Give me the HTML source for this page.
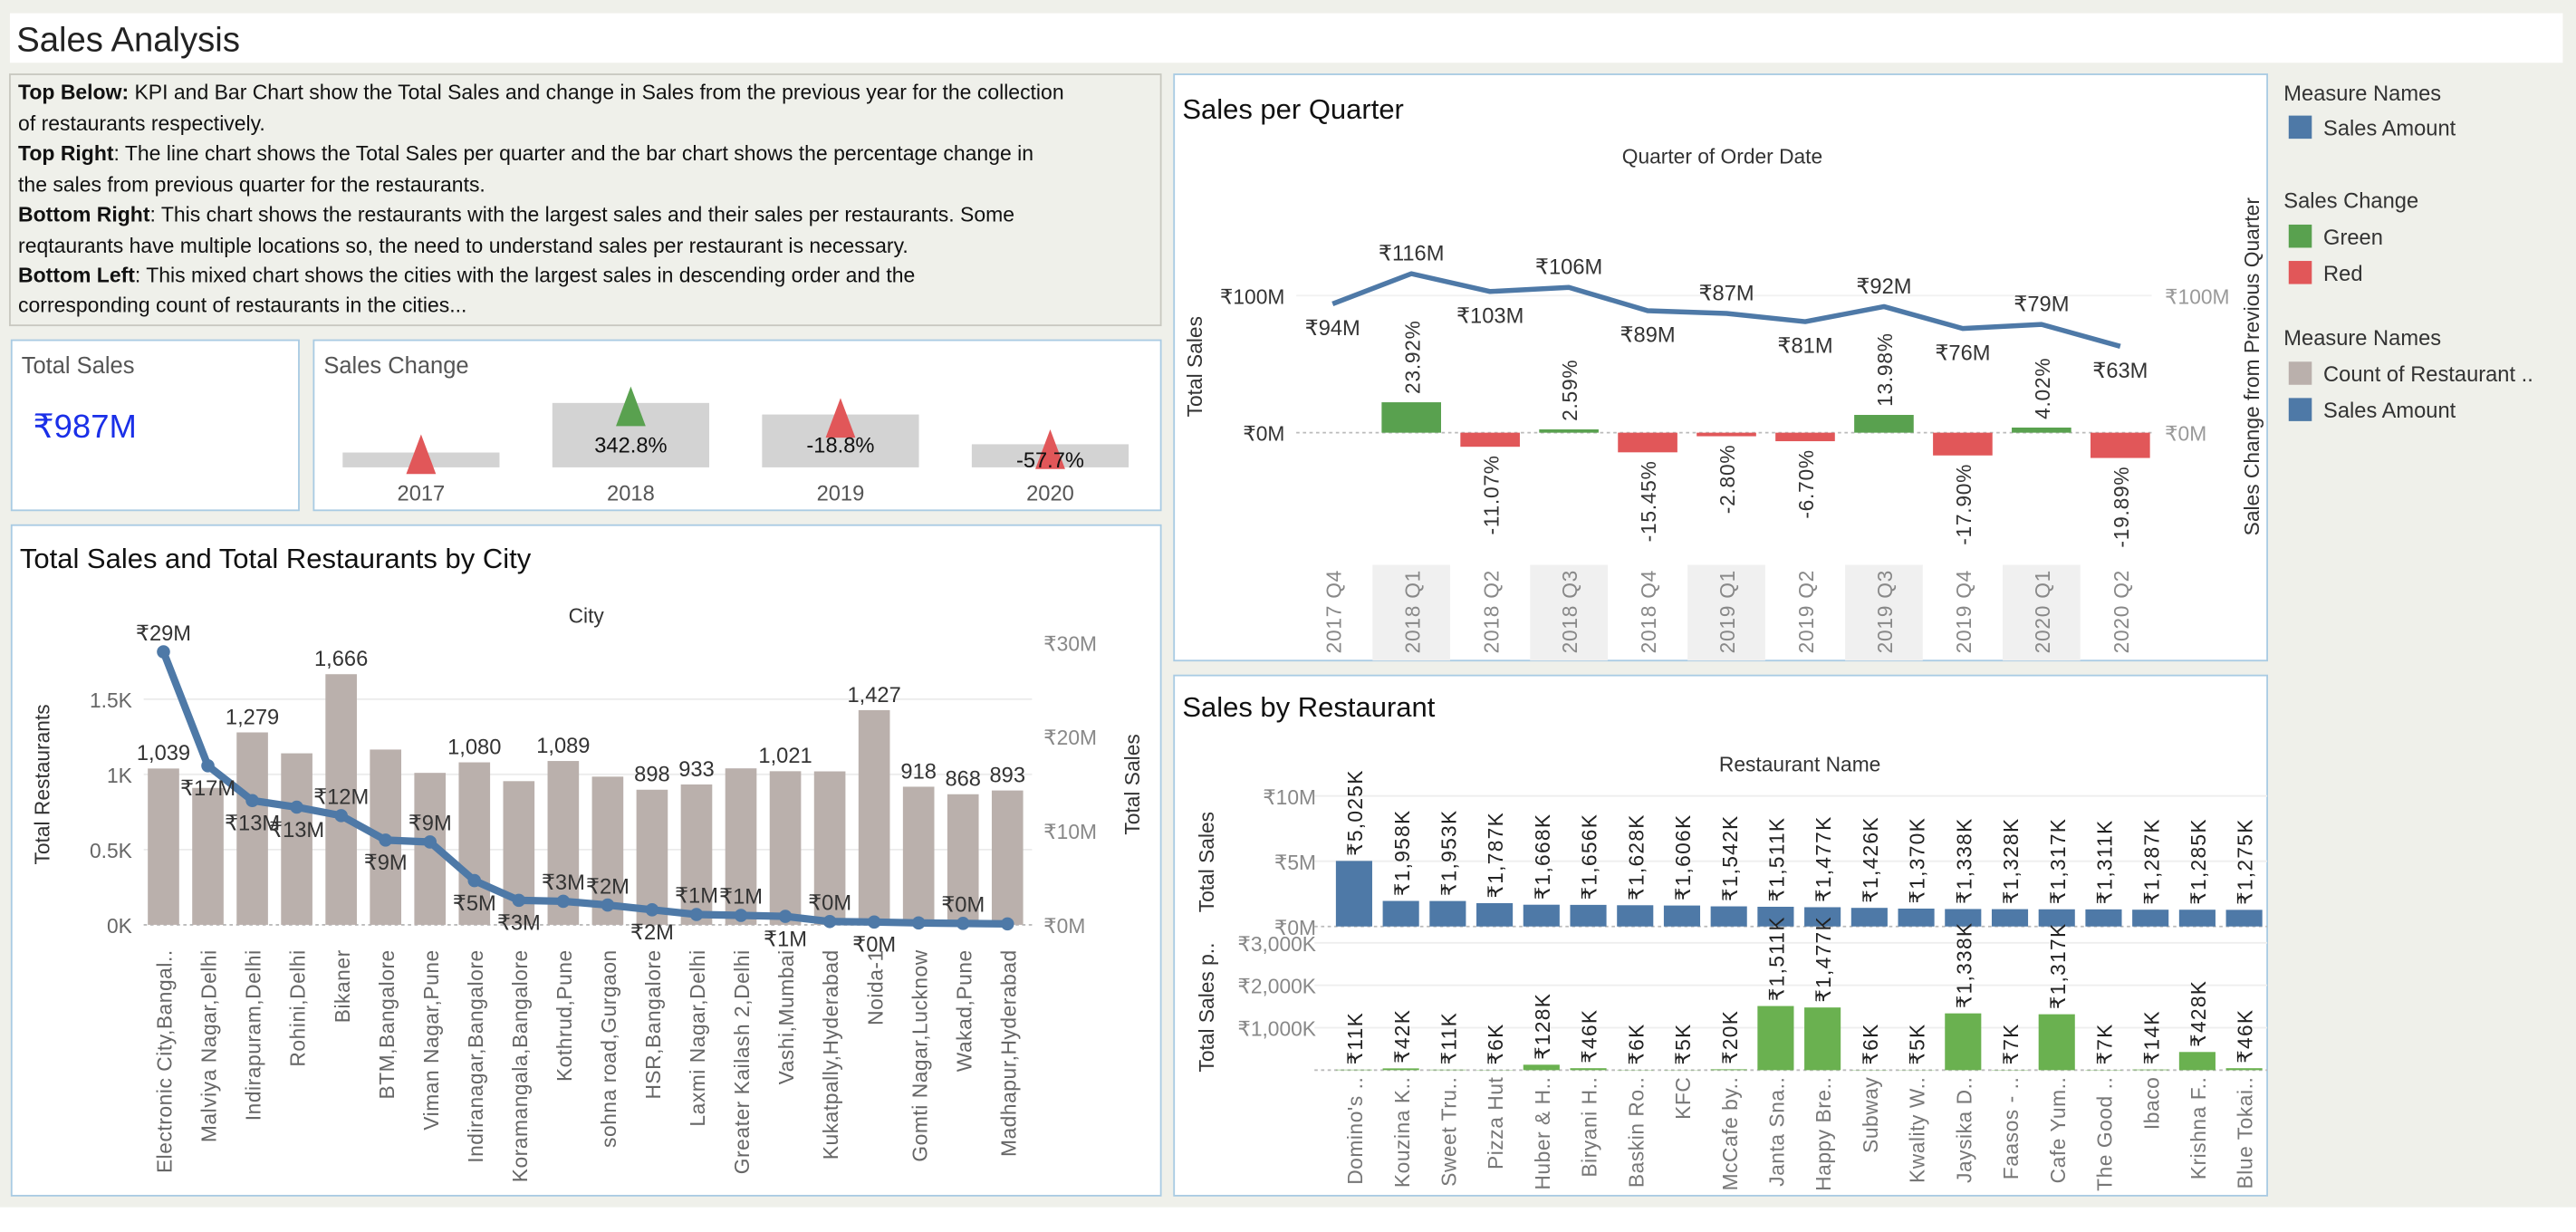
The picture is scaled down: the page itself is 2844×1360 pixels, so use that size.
<!DOCTYPE html>
<html><head><meta charset="utf-8"><style>
html,body{margin:0;padding:0;background:#fff;overflow:hidden}
svg{display:block;font-family:"Liberation Sans","DejaVu Sans",sans-serif}
</style></head><body>
<svg id="dash" width="2844" height="1360" viewBox="0 0 1560 746" preserveAspectRatio="none" xmlns="http://www.w3.org/2000/svg">
<rect x="0" y="0" width="1560" height="746" fill="#eff0ea"/>
<rect x="0" y="731" width="1560" height="15" fill="#fff"/>
<rect x="6" y="8" width="1546" height="30" fill="#fff"/>
<text x="10" y="31" font-size="21" fill="#222">Sales Analysis</text>

<g font-size="12.6" fill="#111">
<rect x="6" y="45" width="697" height="152" fill="#eff0ea" stroke="#c8c8c0" stroke-width="1"/>
<text x="11" y="60"><tspan font-weight="bold">Top Below:</tspan> KPI and Bar Chart show the Total Sales and change in Sales from the previous year for the collection</text>
<text x="11" y="79">of restaurants respectively.</text>
<text x="11" y="97"><tspan font-weight="bold">Top Right</tspan>: The line chart shows the Total Sales per quarter and the bar chart shows the percentage change in</text>
<text x="11" y="116">the sales from previous quarter for the restaurants.</text>
<text x="11" y="134"><tspan font-weight="bold">Bottom Right</tspan>: This chart shows the restaurants with the largest sales and their sales per restaurants. Some</text>
<text x="11" y="153">reqtaurants have multiple locations so, the need to understand sales per restaurant is necessary.</text>
<text x="11" y="171"><tspan font-weight="bold">Bottom Left</tspan>: This mixed chart shows the cities with the largest sales in descending order and the</text>
<text x="11" y="189">corresponding count of restaurants  in the cities...</text>
</g>

<g>
<rect x="7" y="206" width="174" height="103" fill="#fff" stroke="#a9cbe3"/>
<text x="13" y="226" font-size="14" fill="#555">Total Sales</text>
<text x="20" y="265" font-size="20" fill="#1a2fe8">₹987M</text>
</g>

<g id="kpi">
<rect x="190" y="206" width="513" height="103" fill="#fff" stroke="#a9cbe3"/>
<text x="196" y="226" font-size="14" fill="#555">Sales Change</text>
</g>

<g id="city">
<rect x="7" y="318" width="696" height="406" fill="#fff" stroke="#a9cbe3"/>
<text x="12" y="344" font-size="17" fill="#111">Total Sales and Total Restaurants by City</text>
<text x="355" y="377" font-size="12.5" fill="#333" text-anchor="middle">City</text>
<text transform="translate(30,475) rotate(-90)" font-size="12.5" fill="#333" text-anchor="middle">Total Restaurants</text>
<text transform="translate(690,475) rotate(-90)" font-size="12.5" fill="#333" text-anchor="middle">Total Sales</text>
</g>

<g id="qtr">
<rect x="711" y="45" width="662" height="355" fill="#fff" stroke="#a9cbe3"/>
<text x="716" y="72" font-size="17" fill="#111">Sales per Quarter</text>
<text x="1043" y="99" font-size="12.5" fill="#333" text-anchor="middle">Quarter of Order Date</text>
<text transform="translate(728,222) rotate(-90)" font-size="12.5" fill="#333" text-anchor="middle">Total Sales</text>
<text transform="translate(1368,222) rotate(-90)" font-size="12.5" fill="#333" text-anchor="middle">Sales Change from Previous Quarter</text>
</g>

<g id="rest">
<rect x="711" y="409" width="662" height="315" fill="#fff" stroke="#a9cbe3"/>
<text x="716" y="434" font-size="17" fill="#111">Sales by Restaurant</text>
<text x="1090" y="467" font-size="12.5" fill="#333" text-anchor="middle">Restaurant Name</text>
<text transform="translate(735,522) rotate(-90)" font-size="12.5" fill="#333" text-anchor="middle">Total Sales</text>
<text transform="translate(735,610) rotate(-90)" font-size="12.5" fill="#333" text-anchor="middle">Total Sales p..</text>
</g>

<g font-size="13" fill="#333">
<text x="1383" y="61">Measure Names</text>
<rect x="1386" y="70" width="14" height="14" fill="#4e79a7"/>
<text x="1407" y="82">Sales Amount</text>
<text x="1383" y="126">Sales Change</text>
<rect x="1386" y="136" width="14" height="14" fill="#59a14f"/>
<text x="1407" y="148">Green</text>
<rect x="1386" y="158" width="14" height="14" fill="#e15759"/>
<text x="1407" y="170">Red</text>
<text x="1383" y="209">Measure Names</text>
<rect x="1386" y="219" width="14" height="14" fill="#bab0ac"/>
<text x="1407" y="231">Count of Restaurant ..</text>
<rect x="1386" y="241" width="14" height="14" fill="#4e79a7"/>
<text x="1407" y="253">Sales Amount</text>
</g>
</svg>
<script>
// ---- KPI data ----
const kpiYears = ['2017','2018','2019','2020'];
const kpiSales = [9, 39, 32, 14];
const kpiChange = [null, 342.8, -18.8, -57.7];

// ---- City chart data ----
const cities = ['Electronic City,Bangal..','Malviya Nagar,Delhi','Indirapuram,Delhi','Rohini,Delhi','Bikaner','BTM,Bangalore','Viman Nagar,Pune','Indiranagar,Bangalore','Koramangala,Bangalore','Kothrud,Pune','sohna road,Gurgaon','HSR,Bangalore','Laxmi Nagar,Delhi','Greater Kailash 2,Delhi','Vashi,Mumbai','Kukatpally,Hyderabad','Noida-1','Gomti Nagar,Lucknow','Wakad,Pune','Madhapur,Hyderabad'];
const cityRestaurants = [1039,910,1279,1140,1666,1165,1010,1080,955,1089,985,898,933,1040,1021,1020,1427,918,868,893];
const cityRestLabelShown = [1,0,1,0,1,0,0,1,0,1,0,1,1,0,1,0,1,1,1,1];
const citySales = [29,16.9,13.2,12.5,11.6,9,8.8,4.7,2.6,2.5,2.1,1.6,1.1,1.0,0.9,0.35,0.3,0.2,0.15,0.1];
const citySalesLabelPos = ['a','b','b','b','a','b','a','b','b','a','a','b','a','a','b','a','b','n','a','n'];
const cityLeftTicks = [0,500,1000,1500];
const cityLeftTickLabels = ['0K','0.5K','1K','1.5K'];
const cityRightTicks = [0,10,20,30];

// ---- Quarter chart data ----
const quarters = ['2017 Q4','2018 Q1','2018 Q2','2018 Q3','2018 Q4','2019 Q1','2019 Q2','2019 Q3','2019 Q4','2020 Q1','2020 Q2'];
const quarterSales = [94,116,103,106,89,87,81,92,76,79,63];
const quarterChange = [null,23.92,-11.07,2.59,-15.45,-2.80,-6.70,13.98,-17.90,4.02,-19.89];
const quarterLabelPos = ['b','a','b','a','b','a','b','a','b','a','b'];

// ---- Restaurant chart data ----
const restaurants = ["Domino's ..",'Kouzina K..','Sweet Tru..','Pizza Hut','Huber & H..','Biryani H..','Baskin Ro..','KFC','McCafe by..','Janta Sna..','Happy Bre..','Subway','Kwality W..','Jaysika D..','Faasos - ..','Cafe Yum..','The Good ..','Ibaco','Krishna F..','Blue Tokai..'];
const restSales = [5025,1958,1953,1787,1668,1656,1628,1606,1542,1511,1477,1426,1370,1338,1328,1317,1311,1287,1285,1275];
const restPerRest = [11,42,11,6,128,46,6,5,20,1511,1477,6,5,1338,7,1317,7,14,428,46];

const NS='http://www.w3.org/2000/svg';
function mk(tag, attrs, parent){const e=document.createElementNS(NS,tag);for(const k in attrs)e.setAttribute(k,attrs[k]);parent.appendChild(e);return e;}
function tx(str, attrs, parent){const e=mk('text',attrs,parent);e.textContent=str;return e;}
const fmt=n=>n.toLocaleString('en-US');

// ===== KPI =====
(function(){
  const g=document.getElementById('kpi');
  const x0=255, step=127, base=283, bw=95;
  const hs=v=>v*1.0;
  kpiYears.forEach((y,i)=>{
    const cx=x0+i*step;
    const h=hs(kpiSales[i]);
    const r=mk('rect',{x:cx-bw/2,y:base-h,width:bw,height:h,fill:'#d3d3d3'},g);
    
    
    const up=(kpiChange[i]!==null&&kpiChange[i]>0);
    const ty=base-h+ (i===0? h-8: i===3? 3: 2);
    const t=mk('polygon',{points:`${cx},${ty-12} ${cx-9},${ty+12} ${cx+9},${ty+12}`,fill:up?'#59a14f':'#e15759'},g);
    
    
    if(kpiChange[i]!==null){
      const l=tx(kpiChange[i].toFixed(1)+'%',{x:cx,y:base-h+ (i===3?14:i===2?23:30),'font-size':13,'text-anchor':'middle',fill:'#111'},g);
      
      
    }
    const yl=tx(y,{x:cx,y:303,'font-size':13,'text-anchor':'middle',fill:'#555'},g);
    
    
  });
})();

// ===== City chart =====
(function(){
  const g=document.getElementById('city');
  const x0=99, step=26.9, base=560;
  const yL=v=>base-v*0.0911;
  const yR=v=>base-v*5.7;
  cityLeftTicks.forEach((t,i)=>{
    const gl=mk('line',{x1:87,x2:625,y1:yL(t),y2:yL(t),stroke:t===0?'#bbb':'#ececec','stroke-dasharray':t===0?'2,2':''},g);
    
    
    const l=tx(cityLeftTickLabels[i],{x:80,y:yL(t)+5,'font-size':12.5,'text-anchor':'end',fill:'#666'},g);
    
    
  });
  cityRightTicks.forEach(t=>{
    const l=tx('₹'+t+'M',{x:632,y:yR(t)+5,'font-size':12.5,fill:'#888'},g);
    
    
  });
  cities.forEach((c,i)=>{
    const cx=x0+i*step;
    const b=mk('rect',{x:cx-9.5,y:yL(cityRestaurants[i]),width:19,height:base-yL(cityRestaurants[i]),fill:'#bab0ac'},g);
    
    
    if(cityRestLabelShown[i]){
      const l=tx(fmt(cityRestaurants[i]),{x:cx,y:yL(cityRestaurants[i])-5,'font-size':13,'text-anchor':'middle',fill:'#333'},g);
      
      
    }
    const xl=tx(c,{transform:`translate(${cx+5},${575}) rotate(-90)`,'font-size':12.5,'letter-spacing':0.3,'text-anchor':'end',fill:'#666'},g);
    
    
  });
  const pts=citySales.map((v,i)=>`${x0+i*step},${yR(v)}`).join(' ');
  const pl=mk('polyline',{points:pts,fill:'none',stroke:'#4e79a7','stroke-width':4.5,'stroke-linejoin':'round'},g);
  
  
  citySales.forEach((v,i)=>{
    const cx=x0+i*step, cy=yR(v);
    const p=mk('circle',{cx:cx,cy:cy,r:4,fill:'#4e79a7'},g);
    
    
    if(citySalesLabelPos[i]!=='n'){
      const l=tx('₹'+Math.round(v)+'M',{x:cx,y:citySalesLabelPos[i]==='a'?cy-7:cy+18,'font-size':13,'text-anchor':'middle',fill:'#333'},g);
      
      
    }
  });
})();

// ===== Quarter chart =====
(function(){
  const g=document.getElementById('qtr');
  const x0=807, step=47.7, base=262;
  const yS=v=>base-v*0.83;
  const yC=v=>base-v*0.77;
  quarters.forEach((q,i)=>{
    if(i%2===1){
      const band=mk('rect',{x:x0+i*step-23.5,y:342,width:47,height:58,fill:'#f0f0f0'},g);
      
      
    }
  });
  [0,100].forEach(t=>{
    const gl=mk('line',{x1:785,x2:1303,y1:yS(t),y2:yS(t),stroke:t===0?'#bbb':'#f2f2f2','stroke-dasharray':t===0?'2,2':''},g);
    
    
    const l=tx('₹'+t+'M',{x:778,y:yS(t)+5,'font-size':12.5,'text-anchor':'end',fill:'#333'},g);
    
    
    const r=tx('₹'+t+'M',{x:1311,y:yS(t)+5,'font-size':12.5,fill:'#999'},g);
    
    
  });
  quarters.forEach((q,i)=>{
    const cx=x0+i*step;
    const c=quarterChange[i];
    if(c!==null){
      const y1=Math.min(yC(c),base), h=Math.abs(yC(c)-base);
      const b=mk('rect',{x:cx-18,y:y1,width:36,height:h,fill:c>0?'#59a14f':'#e15759'},g);
      
      
      const ly=c>0?yC(c)-5:yC(c)+5;
      const l=tx(c.toFixed(2)+'%',{transform:`translate(${cx+5},${ly}) rotate(-90)`,'font-size':12.5,'letter-spacing':0.4,'text-anchor':c>0?'start':'end',fill:'#333'},g);
      
      
    }
    const xl=tx(q,{transform:`translate(${cx+5},345) rotate(-90)`,'font-size':12.5,'letter-spacing':0.4,'text-anchor':'end',fill:'#888'},g);
    
    
  });
  const pts=quarterSales.map((v,i)=>`${x0+i*step},${yS(v)}`).join(' ');
  const pl=mk('polyline',{points:pts,fill:'none',stroke:'#4e79a7','stroke-width':3,'stroke-linejoin':'round'},g);
  
  
  quarterSales.forEach((v,i)=>{
    const cx=x0+i*step, cy=yS(v);
    const l=tx('₹'+v+'M',{x:cx,y:quarterLabelPos[i]==='a'?cy-8:cy+19,'font-size':13,'text-anchor':'middle',fill:'#333'},g);
    
    
  });
})();

// ===== Restaurant chart =====
(function(){
  const g=document.getElementById('rest');
  const x0=820, step=28.37;
  const baseT=561, baseB=648;
  const yT=v=>baseT-v*0.0079;
  const yB=v=>baseB-v*0.0257;
  [0,5000,10000].forEach(t=>{
    const gl=mk('line',{x1:796,x2:1373,y1:yT(t),y2:yT(t),stroke:t===0?'#bbb':'#eeeeee','stroke-dasharray':t===0?'2,2':''},g);
    
    
    const l=tx('₹'+(t/1000)+'M',{x:797,y:yT(t)+5,'font-size':12.5,'text-anchor':'end',fill:'#888'},g);
    
    
  });
  [0,1000,2000,3000].forEach(t=>{
    const gl=mk('line',{x1:796,x2:1373,y1:yB(t),y2:yB(t),stroke:t===0?'#bbb':'#eeeeee','stroke-dasharray':t===0?'2,2':''},g);
    
    
    if(t>0){
      const l=tx('₹'+fmt(t)+'K',{x:797,y:yB(t)+5,'font-size':12.5,'text-anchor':'end',fill:'#888'},g);
      
      
    }
  });
  restaurants.forEach((r,i)=>{
    const cx=x0+i*step;
    const b=mk('rect',{x:cx-11,y:yT(restSales[i]),width:22,height:baseT-yT(restSales[i]),fill:'#4e79a7'},g);
    
    
    const l=tx('₹'+fmt(restSales[i])+'K',{transform:`translate(${cx+5},${yT(restSales[i])-3}) rotate(-90)`,'font-size':12.5,'letter-spacing':0.7,fill:'#222'},g);
    
    
    const b2=mk('rect',{x:cx-11,y:yB(restPerRest[i]),width:22,height:baseB-yB(restPerRest[i]),fill:'#6ab150'},g);
    
    
    const l2=tx('₹'+fmt(restPerRest[i])+'K',{transform:`translate(${cx+5},${yB(restPerRest[i])-3}) rotate(-90)`,'font-size':12.5,'letter-spacing':0.7,fill:'#222'},g);
    
    
    const xl=tx(r,{transform:`translate(${cx+5},652) rotate(-90)`,'font-size':12.5,'letter-spacing':0.3,'text-anchor':'end',fill:'#777'},g);
    
    
  });
})();
</script>
</body></html>
